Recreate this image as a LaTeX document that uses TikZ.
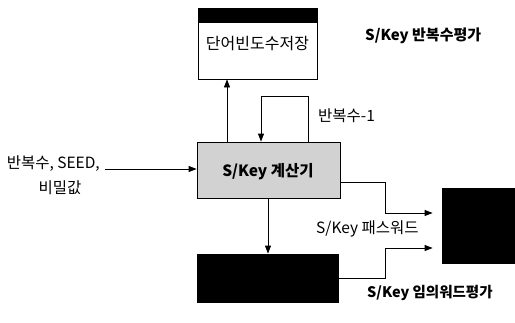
\documentclass[tikz,border=0pt]{standalone}
\usepackage{fontspec}
\setmainfont{Noto Sans CJK KR}
\usetikzlibrary{arrows.meta,calc}
\begin{document}
\begin{tikzpicture}[x=1pt,y=-1pt,
  box/.style={draw,line width=0.8pt,rectangle,inner sep=0pt},
  arr/.style={line width=0.8pt,-{Triangle[length=8pt,width=6pt]}},
  lbl/.style={inner sep=0pt,font=\fontsize{15.5}{18}\selectfont}]
\useasboundingbox (0,0) rectangle (515,322);
% boxes
\node[box,minimum width=119pt,minimum height=71pt] (top) at (257.5,43.5) {};
\fill (top.north west) rectangle ([yshift=-15pt]top.north east);
\node[lbl,font=\fontsize{16}{18}\selectfont] (toptxt) at (257.5,44) {단어빈도수저장};
\node[box,fill=gray!35,minimum width=143pt,minimum height=56pt] (calc) at (268.5,170) {};
\node[lbl,font=\bfseries\fontsize{15.5}{18}\selectfont] (calctxt) at (268,172) {S/Key 계산기};
\node[box,fill=black,minimum width=72pt,minimum height=75pt] (rbox) at (478,225.5) {};
\node[box,fill=black,minimum width=141pt,minimum height=48pt] (bbox) at (267.5,278) {};
% labels
\node[lbl,anchor=west,font=\bfseries\fontsize{15}{18}\selectfont] (l1) at (365,36) {S/Key 반복수평가};
\node[lbl,anchor=west] (l2) at (318,116) {반복수-1};
\node[lbl,anchor=east] (l3) at (100,164) {반복수, SEED,};
\node[lbl] (l4) at (60,188) {비밀값};
\node[lbl,anchor=west] (l5) at (316,229) {S/Key 패스워드};
\node[lbl,anchor=west,font=\bfseries\fontsize{14.5}{18}\selectfont] (l6) at (367,293) {S/Key 임의워드평가};
% coordinates
\coordinate (u) at (227,0);
\coordinate (lR) at (308,96);
\coordinate (lL) at (261,96);
\coordinate (in) at (105,169);
\coordinate (o1) at (385,182);
\coordinate (o1b) at (385,213);
\coordinate (o2) at (385,278);
\coordinate (o2b) at (385,248);
\coordinate (d) at (268,0);
% connectors
\draw[arr] (calc.north -| u) -- (top.south -| u);
\draw[arr] (calc.north -| lR) -- (lR) -- (lL) -- (calc.north -| lL);
\draw[arr] (in) -- (calc.west |- in);
\draw[arr] (calc.south -| d) -- (bbox.north -| d);
\draw[arr,shorten >=9pt] (calc.east |- o1) -- (o1) -- (o1b) -- (rbox.west |- o1b);
\draw[arr,shorten >=9pt] (bbox.east |- o2) -- (o2) -- (o2b) -- (rbox.west |- o2b);
\end{tikzpicture}
\end{document}
